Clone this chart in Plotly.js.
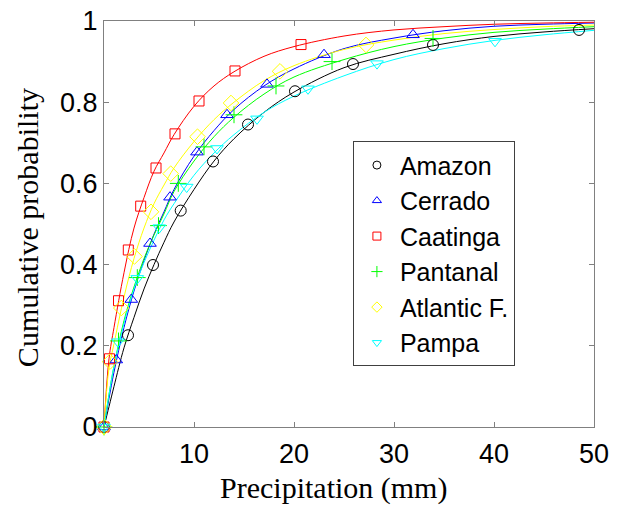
<!DOCTYPE html>
<html>
<head>
<meta charset="utf-8">
<script src="https://cdn.plot.ly/plotly-3.0.1.min.js"></script>
<style>html,body{margin:0;padding:0;background:#fff;}#chart{width:618px;height:506px;}</style>
</head>
<body>
<div id="chart"></div>
<script>
// ---- Data ----
const seriesNames = ["Amazon", "Cerrado", "Caatinga", "Pantanal", "Atlantic F.", "Pampa"];

// Empirical points (markers)
const amazonX   = [1, 3.4, 5.9, 8.67, 11.9, 15.4, 20.1, 25.9, 33.9, 48.5];
const amazonY   = [0, 0.226, 0.399, 0.533, 0.654, 0.745, 0.827, 0.894, 0.941, 0.978];
const cerradoX  = [1, 2.23, 3.73, 5.6, 7.6, 10.3, 13.3, 17.3, 23.0, 31.9];
const cerradoY  = [0, 0.165, 0.314, 0.452, 0.566, 0.677, 0.769, 0.844, 0.917, 0.966];
const caatingaX = [1, 1.55, 2.45, 3.43, 4.67, 6.2, 8.1, 10.5, 14.1, 20.7];
const caatingaY = [0, 0.168, 0.311, 0.436, 0.544, 0.638, 0.722, 0.803, 0.877, 0.942];
const pantanalX = [1, 2.45, 4.33, 6.45, 8.43, 11.0, 14.0, 18.2, 23.8, 33.9];
const pantanalY = [0, 0.212, 0.368, 0.496, 0.600, 0.690, 0.769, 0.840, 0.900, 0.957];
const atlanticX = [1, 1.6, 2.73, 4.05, 5.7, 7.67, 10.35, 13.7, 18.6, 27.2];
const atlanticY = [0, 0.161, 0.293, 0.420, 0.530, 0.624, 0.715, 0.798, 0.876, 0.941];
const pampaX    = [1, 2.4, 4.33, 6.53, 9.27, 12.3, 16.3, 21.4, 28.3, 40.1];
const pampaY    = [0, 0.210, 0.366, 0.491, 0.591, 0.686, 0.759, 0.833, 0.895, 0.950];

// Fitted curves
const curveX     = [1, 1.5, 2, 3, 4, 5, 6, 7, 8, 10, 12, 14, 17, 20, 25, 30, 35, 40, 45, 50];
const amazonFit   = [0, 0.05, 0.10, 0.195, 0.27, 0.34, 0.40, 0.455, 0.505, 0.585, 0.655, 0.71, 0.775, 0.825, 0.885, 0.918, 0.944, 0.962, 0.973, 0.981];
const cerradoFit  = [0, 0.07, 0.135, 0.245, 0.335, 0.41, 0.475, 0.53, 0.585, 0.667, 0.73, 0.782, 0.84, 0.882, 0.932, 0.958, 0.976, 0.987, 0.992, 0.995];
const caatingaFit = [0, 0.168, 0.245, 0.38, 0.49, 0.565, 0.63, 0.675, 0.72, 0.79, 0.84, 0.875, 0.913, 0.937, 0.963, 0.978, 0.986, 0.992, 0.995, 0.997];
const pantanalFit = [0, 0.08, 0.15, 0.262, 0.345, 0.415, 0.473, 0.525, 0.58, 0.655, 0.715, 0.763, 0.82, 0.862, 0.905, 0.937, 0.958, 0.972, 0.98, 0.986];
const atlanticFit = [0, 0.145, 0.205, 0.32, 0.415, 0.49, 0.55, 0.596, 0.638, 0.703, 0.757, 0.80, 0.853, 0.89, 0.93, 0.953, 0.969, 0.979, 0.986, 0.99];
const pampaFit    = [0, 0.08, 0.15, 0.255, 0.34, 0.405, 0.46, 0.51, 0.55, 0.62, 0.675, 0.72, 0.775, 0.815, 0.865, 0.905, 0.932, 0.952, 0.966, 0.977];

const xTicks = [10, 20, 30, 40, 50];
const yTicks = [0, 0.2, 0.4, 0.6, 0.8, 1];
const yTickText = ["0", "0.2", "0.4", "0.6", "0.8", "1"];

// ---- Styles ----
const colors  = ["#000000", "#0000ff", "#ff0000", "#00ff00", "#ffff00", "#00ffff"];
const symbols = ["circle-open", "triangle-up-open", "square-open", "cross-thin-open", "diamond-open", "triangle-down-open"];
const sizes   = [11, 11, 10, 12, 12, 11];

const ptsX = [amazonX, cerradoX, caatingaX, pantanalX, atlanticX, pampaX];
const ptsY = [amazonY, cerradoY, caatingaY, pantanalY, atlanticY, pampaY];
const fits = [amazonFit, cerradoFit, caatingaFit, pantanalFit, atlanticFit, pampaFit];

const traces = [];
// curves
for (let i = 0; i < 6; i++) {
  traces.push({
    x: curveX, y: fits[i], type: "scatter", mode: "lines",
    line: {color: colors[i], width: 1, shape: "spline", smoothing: 1},
    showlegend: false, hoverinfo: "skip", cliponaxis: false
  });
}
// markers
for (let i = 0; i < 6; i++) {
  traces.push({
    x: ptsX[i], y: ptsY[i], type: "scatter", mode: "markers",
    marker: {symbol: symbols[i], size: sizes[i], color: colors[i], line: {color: colors[i], width: 1}},
    showlegend: false, cliponaxis: false
  });
}
// legend entries (smaller symbols as in the reference)
for (let i = 0; i < 6; i++) {
  traces.push({
    x: [null], y: [null], type: "scatter", mode: "markers", name: seriesNames[i],
    marker: {symbol: symbols[i], size: 8, color: colors[i], line: {color: colors[i], width: 1}},
    showlegend: true
  });
}

const axisCommon = {
  showline: true, linecolor: "#808080", linewidth: 1, mirror: "ticks",
  ticks: "inside", ticklen: 5, tickcolor: "#808080", tickwidth: 1,
  showgrid: false, zeroline: false,
  tickfont: {family: "Liberation Sans, Arial, sans-serif", size: 27, color: "#000"}
};

const layout = {
  width: 618, height: 506,
  margin: {l: 104, r: 24, t: 21, b: 79},
  paper_bgcolor: "#fff", plot_bgcolor: "#fff",
  xaxis: Object.assign({}, axisCommon, {range: [1, 50], tickvals: xTicks, ticklabelstandoff: 3}),
  yaxis: Object.assign({}, axisCommon, {range: [0, 1], tickvals: yTicks, ticktext: yTickText}),
  legend: {
    x: 0.508, y: 0.7036, xanchor: "left", yanchor: "top",
    bgcolor: "#fff", bordercolor: "#404040", borderwidth: 1, itemwidth: 36,
    font: {family: "Liberation Sans, Arial, sans-serif", size: 25, color: "#000"}
  },
  annotations: [
    {text: "Precipitation (mm)", xref: "paper", yref: "paper", x: 0.469, y: -0.150,
     xanchor: "center", yanchor: "middle", showarrow: false,
     font: {family: "Liberation Serif, Times New Roman, serif", size: 30, color: "#000"}},
    {text: "Cumulative probability", xref: "paper", yref: "paper", x: -0.157, y: 0.49,
     xanchor: "center", yanchor: "middle", showarrow: false, textangle: -90,
     font: {family: "Liberation Serif, Times New Roman, serif", size: 30, color: "#000"}}
  ],
  showlegend: true
};

Plotly.newPlot("chart", traces, layout, {displayModeBar: false, staticPlot: true});
</script>
</body>
</html>
